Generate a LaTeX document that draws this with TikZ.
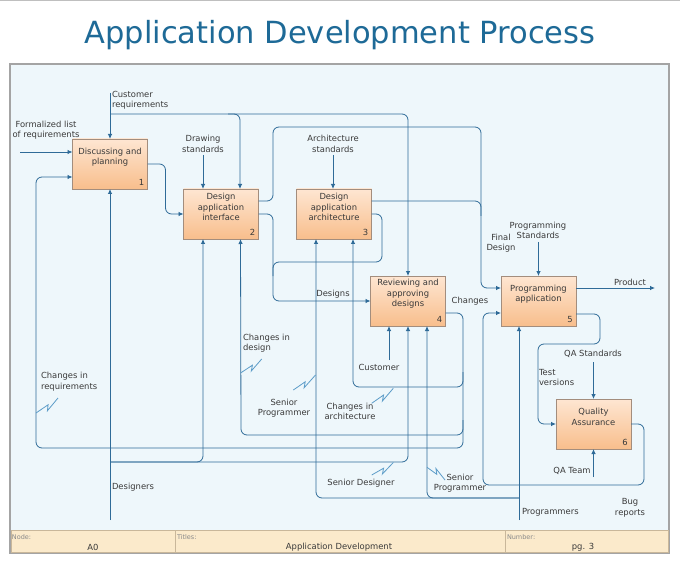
\documentclass[tikz,border=0pt]{standalone}
\usepackage{fontspec}
\setmainfont{DejaVu Sans}
\usetikzlibrary{arrows.meta,calc}
\definecolor{linecol}{HTML}{2F6B98}
\definecolor{zigcol}{HTML}{5C9CC8}
\definecolor{txtcol}{HTML}{3A3A3A}
\definecolor{titlecol}{HTML}{1E6A97}
\definecolor{boxtop}{HTML}{FEE6D2}
\definecolor{boxbot}{HTML}{F8BE8C}
\definecolor{boxdraw}{HTML}{A38D7D}
\definecolor{bgcol}{HTML}{EEF7FB}
\definecolor{framecol}{HTML}{A4A4A4}
\definecolor{footcol}{HTML}{FBEACB}
\definecolor{footline}{HTML}{C9B79A}
\definecolor{foottxt}{HTML}{8A8A8A}
\begin{document}
\begin{tikzpicture}[x=1pt,y=-1pt,
  every node/.style={inner sep=0pt, outer sep=0pt, text=txtcol, font=\fontsize{8.4}{10.5}\selectfont},
  box/.style={draw=boxdraw, line width=0.7pt, top color=boxtop, bottom color=boxbot, minimum width=75pt, minimum height=50pt},
  lbl/.style={align=center},
  lbll/.style={align=left, anchor=west},
  boxnum/.style={anchor=center},
  conn/.style={draw=linecol, line width=0.8pt, rounded corners=6pt},
  arr/.style={conn, -{Latex[length=5pt,width=4.5pt]}},
  zig/.style={draw=zigcol, line width=0.8pt},
  flab/.style={anchor=west, text=foottxt, font=\fontsize{6.5}{8}\selectfont},
]
\useasboundingbox (0,0) rectangle (680,564);
\fill[white] (0,0) rectangle (680,564);
\draw[framecol!70, line width=1pt] (0,0.5) -- (680,0.5);
% frame
\draw[framecol, line width=1.8pt, fill=bgcol] (10,64) rectangle (669,553);
\draw[footline, line width=0.7pt, fill=footcol] (11,530) rectangle (668,552);
\draw[footline, line width=0.7pt] (175,530) -- (175,552);
\draw[footline, line width=0.7pt] (505,530) -- (505,552);
\node[flab] (fn) at (12,537) {Node:};
\node (fa) at (93,547) {A0};
\node[flab] (ft) at (177,537) {Titles:};
\node (fad) at (339,547) {Application Development};
\node[flab] (fnum) at (507,537) {Number:};
\node (fpg) at (583,547) {pg. 3};

% title
\node[font=\fontsize{30.5}{36}\selectfont, text=titlecol] (title) at (340,35) {Application Development Process};

% boxes
\node[box] (b1) at (110,164) {};
\node[box] (b2) at (221,214) {};
\node[box] (b3) at (334,214) {};
\node[box] (b4) at (408,301) {};
\node[box] (b5) at (538.5,301) {};
\node[box] (b6) at (593.5,424) {};
\node[lbl] (b1t) at ($(b1.north)+(0,18)$) {Discussing and\\planning};
\node[lbl] (b2t) at ($(b2.north)+(0,18)$) {Design\\application\\interface};
\node[lbl] (b3t) at ($(b3.north)+(0,18)$) {Design\\application\\architecture};
\node[lbl] (b4t) at ($(b4.north)+(0,18)$) {Reviewing and\\approving\\designs};
\node[lbl] (b5t) at ($(b5.north)+(0,18)$) {Programming\\application};
\node[lbl] (b6t) at ($(b6.north)+(0,18)$) {Quality\\Assurance};
\node[boxnum] (b1n) at ($(b1.south east)+(-6,-7)$) {1};
\node[boxnum] (b2n) at ($(b2.south east)+(-6,-7)$) {2};
\node[boxnum] (b3n) at ($(b3.south east)+(-6,-7)$) {3};
\node[boxnum] (b4n) at ($(b4.south east)+(-6,-7)$) {4};
\node[boxnum] (b5n) at ($(b5.south east)+(-6,-7)$) {5};
\node[boxnum] (b6n) at ($(b6.south east)+(-6,-7)$) {6};

% labels
\node[lbl] (tform) at (46,130) {Formalized list\\of requirements};
\node[lbll] (tcust) at (112,100.4) {Customer\\requirements};
\node[lbl] (tdraw) at (203,144) {Drawing\\standards};
\node[lbl] (tarch) at (333,144) {Architecture\\standards};
\node[lbl] (tfinal) at (501,243) {Final\\Design};
\node[lbl] (tpstd) at (538,230.5) {Programming\\Standards};
\node[lbl] (tprod) at (630,282) {Product};
\node[lbl] (tchg) at (470,301) {Changes};
\node[lbl] (tdes) at (333,294) {Designs};
\node[lbll] (tcid) at (243,343.3) {Changes in\\design};
\node[lbl] (tcustm) at (379,367) {Customer};
\node[lbl] (tsp1) at (284,408) {Senior\\Programmer};
\node[lbl] (tcia) at (350,411.3) {Changes in\\architecture};
\node[lbl] (tsd) at (361,482.7) {Senior Designer};
\node[lbl] (tsp2) at (460,483) {Senior\\Programmer};
\node[lbll] (tdsg) at (112,487.3) {Designers};
\node[lbll] (tcir) at (41,381.7) {Changes in\\requirements};
\node[lbl] (tqas) at (593,354) {QA Standards};
\node[lbll] (ttv) at (539,377.7) {Test\\versions};
\node[lbl] (tqat) at (572,471) {QA Team};
\node[lbl] (tbug) at (630,507.7) {Bug\\reports};
\node[lbll] (tprg) at (522,512.7) {Programmers};

% free ends
\coordinate (fl) at (20,152);
\coordinate (cr0) at (110,93);
\coordinate (cr1) at (110,114);
\coordinate (cr2) at (240,114);
\coordinate (ds) at (203,155);
\coordinate (as) at (333,155);
\coordinate (cu) at (389,360);
\coordinate (dg) at (110,520);
\coordinate (pg) at (519,520);
\coordinate (pr) at (655,288);
\coordinate (ps) at (538.5,242);
\coordinate (qs) at (593.5,362);
\coordinate (qt) at (593.5,477);

% inputs / controls / mechanisms
\draw[arr] (fl) -- (fl -| b1.west);
\draw[arr] (cr0) -- (b1.north);
\draw[arr] (cr1) -- (cr1 -| b4.north) -- (b4.north);
\draw[arr] ($(cr2)+(-12,0)$) -- (cr2) -- (cr2 |- b2.north);
\draw[arr] (ds) -- (ds |- b2.north);
\draw[arr] (as) -- (as |- b3.north);
\draw[arr] (cu) -- (cu |- b4.south);
\draw[arr] (dg) -- (b1.south);
\draw[arr] (pg) -- (pg |- b5.south);
\draw[arr] (ps) -- (b5.north);
\draw[arr] (qs) -- (b6.north);
\draw[arr] (qt) -- (b6.south);
\draw[arr] ($(b5.east)+(0,-13)$) -- (pr);

% 1 -> 2
\draw[arr] (b1.east) -- ++(18,0) |- (b2.west);
% changes feedback
\draw[arr] ($(b4.east)+(0,12)$) -- (463,313) -- (463,448) -- (36,448) -- (36,177) -- ($(b1.west)+(0,13)$);
\draw[arr] (463,372) -- (463,387) -- (353,387) -- ($(b3.south)+(19,0)$);
\draw[arr] (463,420) -- (463,435) -- (241,435) -- ($(b2.south)+(19.5,0)$);
% final design
\draw[arr] ($(b2.east)+(0,-13)$) -- (273,201) -- (273,127) -- (481,127) -- (481,288) -- ($(b5.west)+(0,-13)$);
\draw[conn] ($(b3.east)+(0,-13)$) -- (481,201) -- (481,216);
% designs
\draw[arr] (b2.east) -- (273,214) |- (b4.west);
\draw[conn] (b3.east) -- (382,214) -- (382,262) -- (273,262) -- (273,276);
% senior designer
\draw[arr] (110,462) -- (203,462) -- ($(b2.south)+(-18,0)$);
\draw[arr] (110,462) -- ($(b4.south)+(0,136)$) -- (b4.south);
% senior programmer
\draw[arr] (pg |- 0,498) -- (316,498) -- ($(b3.south)+(-18,0)$);
\draw[arr] (pg |- 0,498) -- (427,498) -- ($(b4.south)+(19,0)$);
% test versions
\draw[arr] ($(b5.east)+(0,13)$) -- (600,314) -- (600,344) -- (538,344) -- (538,424) -- (b6.west);
% bug reports
\draw[arr] (b6.east) -- (644,424) -- (644,485) -- (483,485) -- (483,313) -- ($(b5.west)+(0,12)$);

% squiggles
\draw[zig] (36,413) -- (48.1,404.8) -- (47.4,410.8) -- (58,398);
\draw[zig] (241,372.7) -- (252.4,365.2) -- (251.3,371) -- (261.7,359);
\draw[zig] (293.3,390) -- (305.2,381.8) -- (304.1,387.8) -- (315.5,375);
\draw[zig] (371.7,403.3) -- (383.6,395) -- (382.4,401) -- (393.3,388.3);
\draw[zig] (371.7,475) -- (383.6,468.2) -- (382.4,474) -- (393.3,462.5);
\draw[zig] (427,467.3) -- (436.8,474.3) -- (435.9,468.5) -- (445,480);
\end{tikzpicture}
\end{document}
